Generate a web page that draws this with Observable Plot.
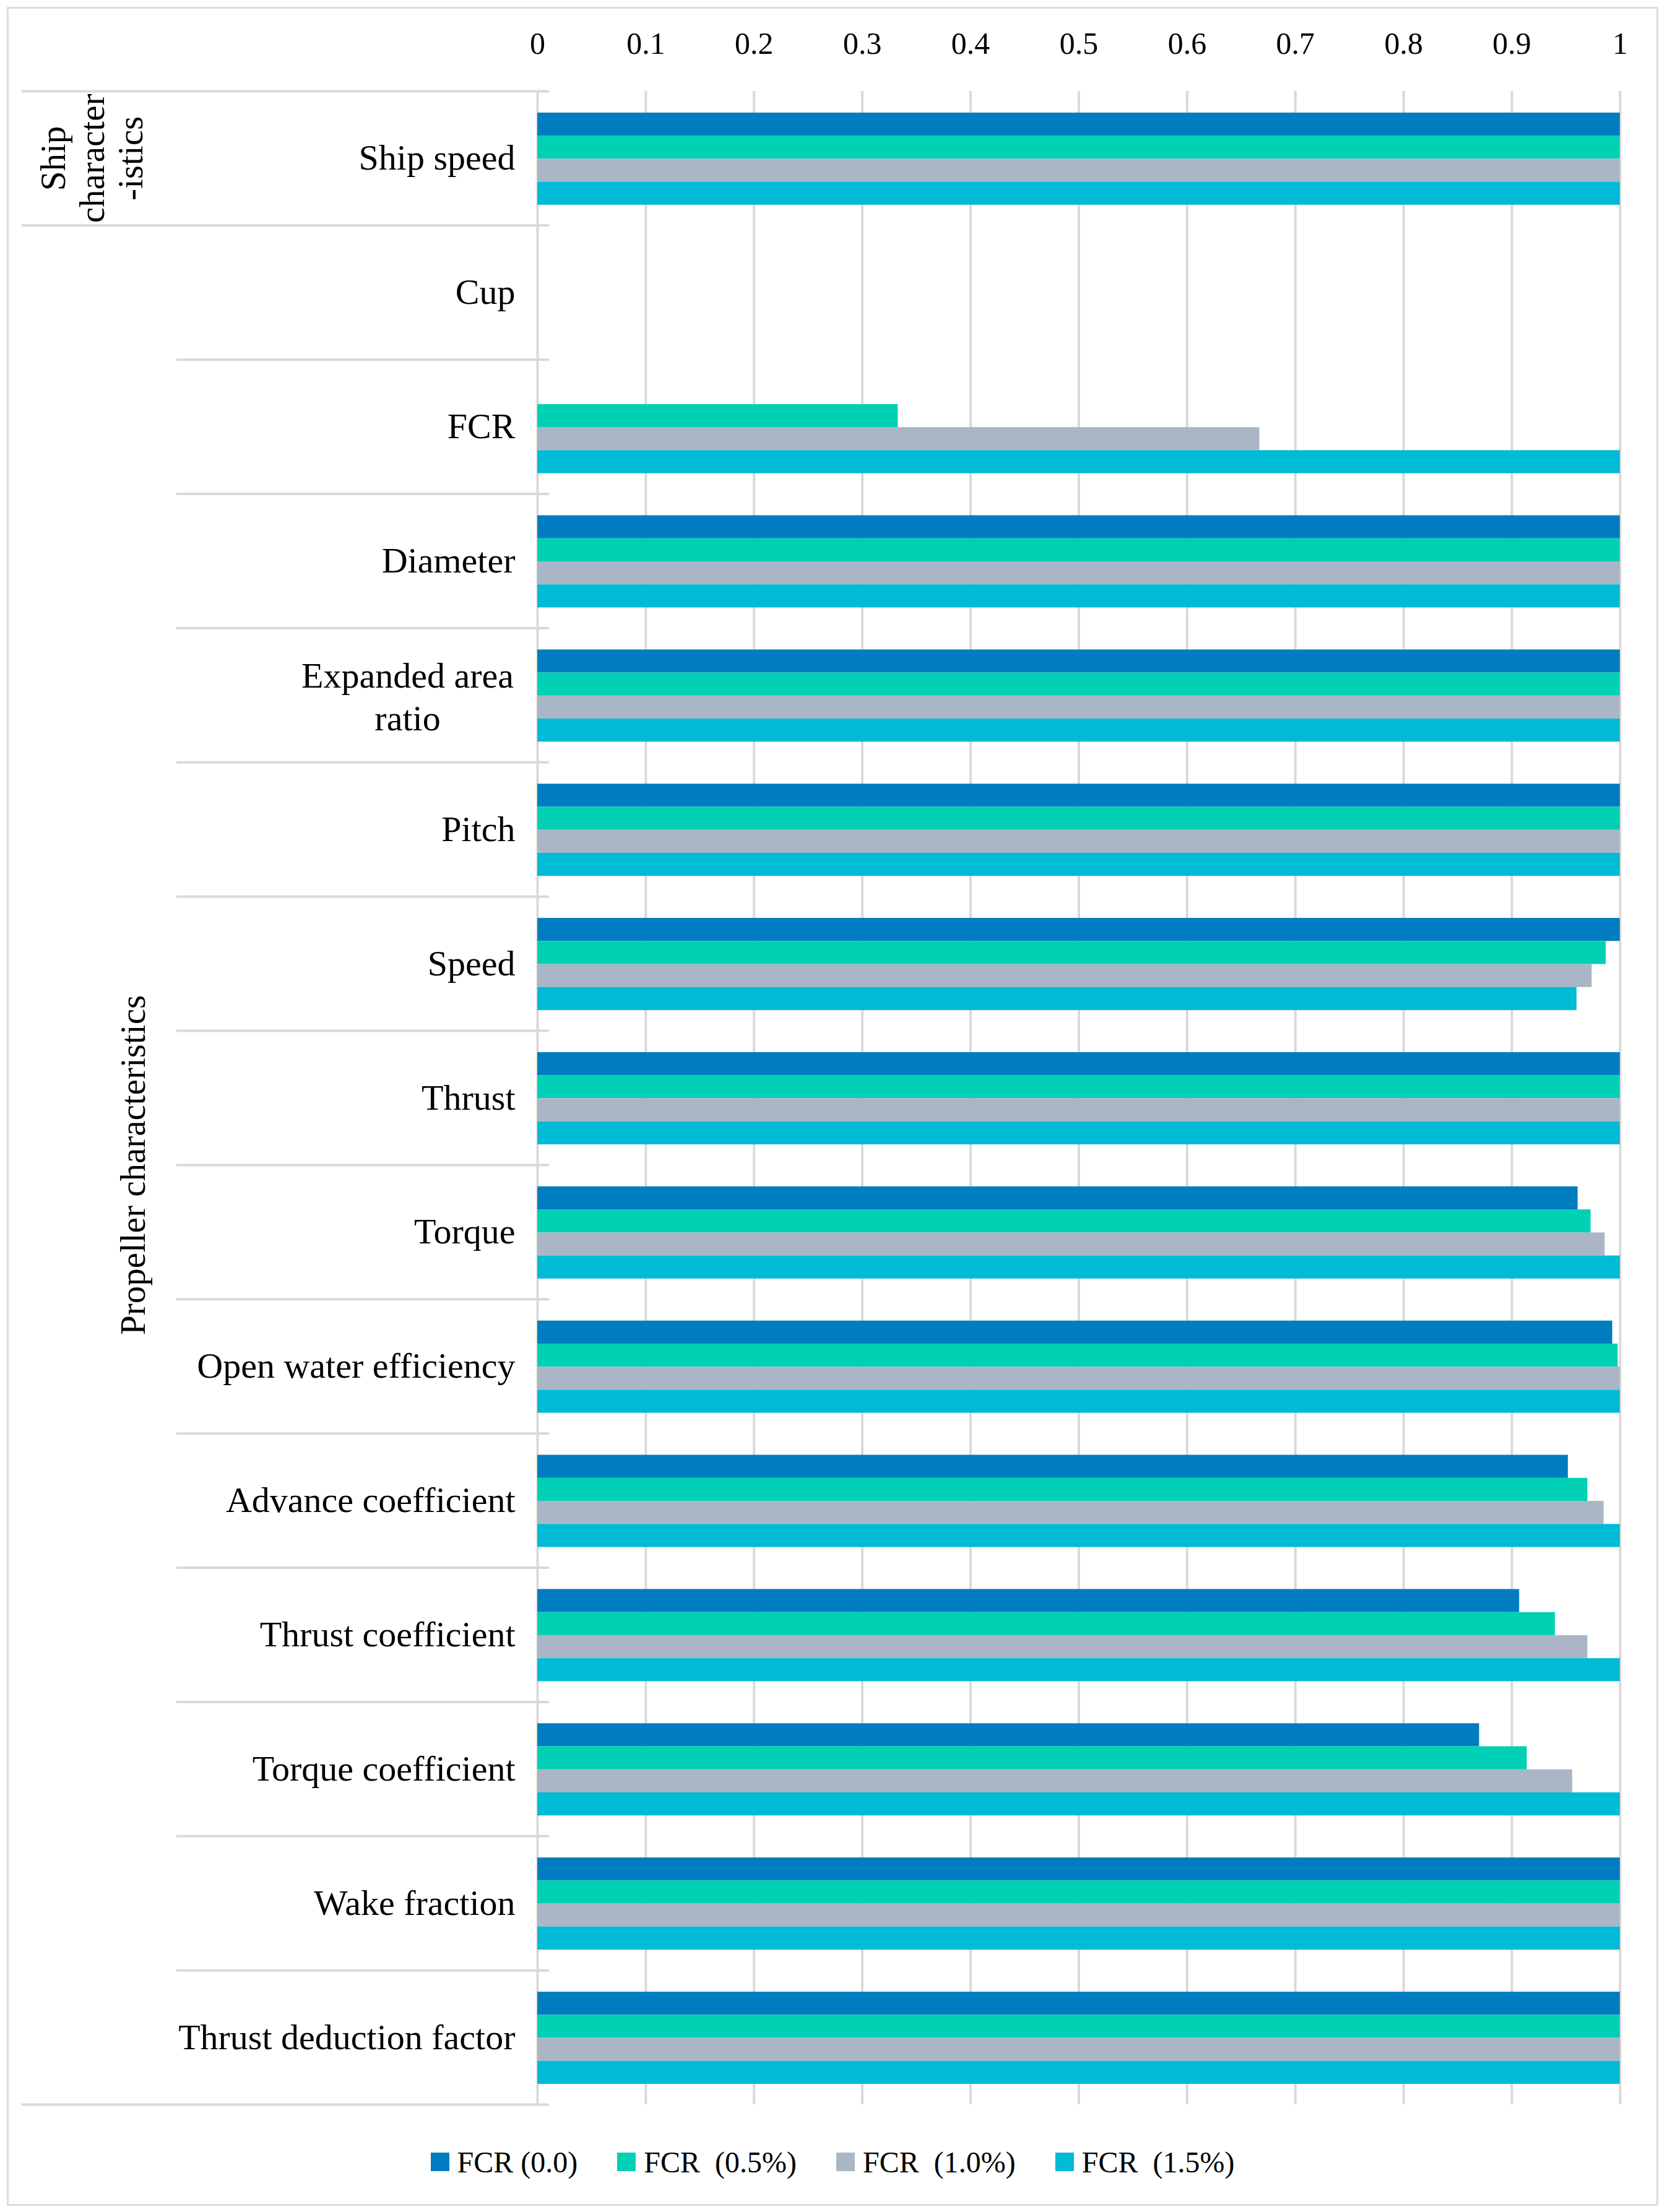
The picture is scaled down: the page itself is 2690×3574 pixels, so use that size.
<!DOCTYPE html>
<html><head><meta charset="utf-8">
<script src="https://cdn.jsdelivr.net/npm/d3@7"></script>
<script src="https://cdn.jsdelivr.net/npm/@observablehq/plot@0.6"></script>
<style>
html,body{margin:0;padding:0;background:#fff;}
#wrap{position:relative;width:2690px;height:3574px;overflow:hidden;}
#border{position:absolute;left:11px;top:11px;width:2668px;height:3553px;border:3px solid #dcdcdc;box-sizing:border-box;}
#chart{position:absolute;left:0;top:0;}
#legend{position:absolute;left:0;top:3458px;width:2690px;height:70px;display:flex;justify-content:center;align-items:center;}
.lg-swatches{font-family:"Liberation Serif",serif !important;font-size:48px !important;color:#000 !important;justify-content:center !important;margin:0 !important;}
.lg-swatch{margin-right:64px !important;white-space:pre;}
.lg-swatch:last-child{margin-right:0 !important;}
.lg-swatch > svg{margin-right:13px !important;}
</style></head><body>
<div id="wrap"><div id="border"></div><div id="chart"></div><div id="legend"></div></div>
<script>
// ---- data ----
const categories = ["Ship speed","Cup","FCR","Diameter","Expanded area\nratio","Pitch","Speed","Thrust","Torque","Open water efficiency","Advance coefficient","Thrust coefficient","Torque coefficient","Wake fraction","Thrust deduction factor"];
const groupLabels = ["Ship\ncharacter\n-istics","Propeller characteristics"];
const groupStart = [0, 1];
const groupEnd = [1, 15];
const seriesNames = ["FCR (0.0)","FCR  (0.5%)","FCR  (1.0%)","FCR  (1.5%)"];
const seriesColors = ["#007dc0","#00d0b4","#aab6c6","#00bbd6"];
const fcr00 = [1, 0, 0,     1, 1, 1, 1,     1, 0.961, 0.993, 0.952, 0.907, 0.870, 1, 1];
const fcr05 = [1, 0, 0.333, 1, 1, 1, 0.987, 1, 0.973, 0.998, 0.970, 0.940, 0.914, 1, 1];
const fcr10 = [1, 0, 0.667, 1, 1, 1, 0.974, 1, 0.986, 1,     0.985, 0.970, 0.956, 1, 1];
const fcr15 = [1, 0, 1,     1, 1, 1, 0.960, 1, 1,     1,     1,     1,     1,     1, 1];
const xTicks = [0,0.1,0.2,0.3,0.4,0.5,0.6,0.7,0.8,0.9,1];
const xTickLabels = ["0","0.1","0.2","0.3","0.4","0.5","0.6","0.7","0.8","0.9","1"];

// ---- layout / style ----
const W = 2690, H = 3410;
const mLeft = 868, mRight = 73, mTop = 147, mBottom = 10;
const catLineLeft = 285, groupLineLeft = 35, ruleEnd = 887;
const padFrac = 0.161, barFrac = 0.1717;
const font = "Liberation Serif";
const grid = "#d9d9d9";

const seriesValues = [fcr00, fcr05, fcr10, fcr15];
const rows = categories.flatMap((c, i) => seriesNames.map((s, j) => ({
  category: c, row: i, series: s, slot: j, value: seriesValues[j][i]
})));
const catRows = categories.map((c, i) => ({label: c, row: i}));
const groups = groupLabels.map((g, k) => ({label: g, start: groupStart[k], end: groupEnd[k]}));
const groupEdges = Array.from(new Set([...groupStart, ...groupEnd]));
const innerEdges = categories.map((c, i) => i).filter(i => !groupEdges.includes(i));

const chart = Plot.plot({
  width: W, height: H,
  marginLeft: mLeft, marginRight: mRight, marginTop: mTop, marginBottom: mBottom,
  style: {fontFamily: font, fontSize: "50px", color: "#000", background: "transparent", overflow: "visible"},
  x: {domain: [0, 1], axis: null},
  y: {domain: [0, categories.length], reverse: true, axis: null},
  color: {domain: seriesNames, range: seriesColors},
  marks: [
    Plot.ruleX(xTicks, {x: d => d, stroke: grid, strokeWidth: 4}),
    Plot.ruleY(innerEdges, {y: d => d, stroke: grid, strokeWidth: 4,
      insetLeft: catLineLeft - mLeft, insetRight: (W - mRight) - ruleEnd}),
    Plot.ruleY(groupEdges, {y: d => d, stroke: grid, strokeWidth: 4,
      insetLeft: groupLineLeft - mLeft, insetRight: (W - mRight) - ruleEnd}),
    Plot.rectX(rows, {
      x1: 0, x2: "value",
      y1: d => d.row + padFrac + d.slot * barFrac,
      y2: d => d.row + padFrac + (d.slot + 1) * barFrac,
      fill: "series"
    }),
    Plot.axisX({anchor: "top", ticks: xTicks, tickSize: 0, tickPadding: 61, label: null,
      tickFormat: d => xTickLabels[xTicks.indexOf(d)], fontSize: 50, fontFamily: font}),
    Plot.text(catRows.filter(d => !d.label.includes("\n")), {
      frameAnchor: "left", y: d => d.row + 0.5, text: "label",
      textAnchor: "end", lineAnchor: "middle", dx: -36, fontSize: 58, fontFamily: font, fill: "#000"
    }),
    Plot.text(catRows.filter(d => d.label.includes("\n")), {
      frameAnchor: "left", y: d => d.row + 0.5, text: "label",
      textAnchor: "middle", lineAnchor: "middle", lineHeight: 1.2, dx: -210, fontSize: 58, fontFamily: font, fill: "#000"
    }),
    Plot.text(groups.filter(d => d.end - d.start === 1), {
      frameAnchor: "left", y: d => (d.start + d.end) / 2, text: "label", rotate: -90,
      textAnchor: "middle", lineAnchor: "middle", lineHeight: 1.1, dx: -721, fontSize: 57, fontFamily: font, fill: "#000"
    }),
    Plot.text(groups.filter(d => d.end - d.start > 1), {
      frameAnchor: "left", y: d => (d.start + d.end) / 2, text: "label", rotate: -90,
      textAnchor: "middle", lineAnchor: "middle", dx: -653, fontSize: 57, fontFamily: font, fill: "#000"
    })
  ]
});
document.getElementById("chart").appendChild(chart);

const legend = Plot.legend({
  color: {domain: seriesNames, range: seriesColors},
  legend: "swatches", swatchSize: 30, className: "lg"
});
document.getElementById("legend").appendChild(legend);
</script>
</body></html>
